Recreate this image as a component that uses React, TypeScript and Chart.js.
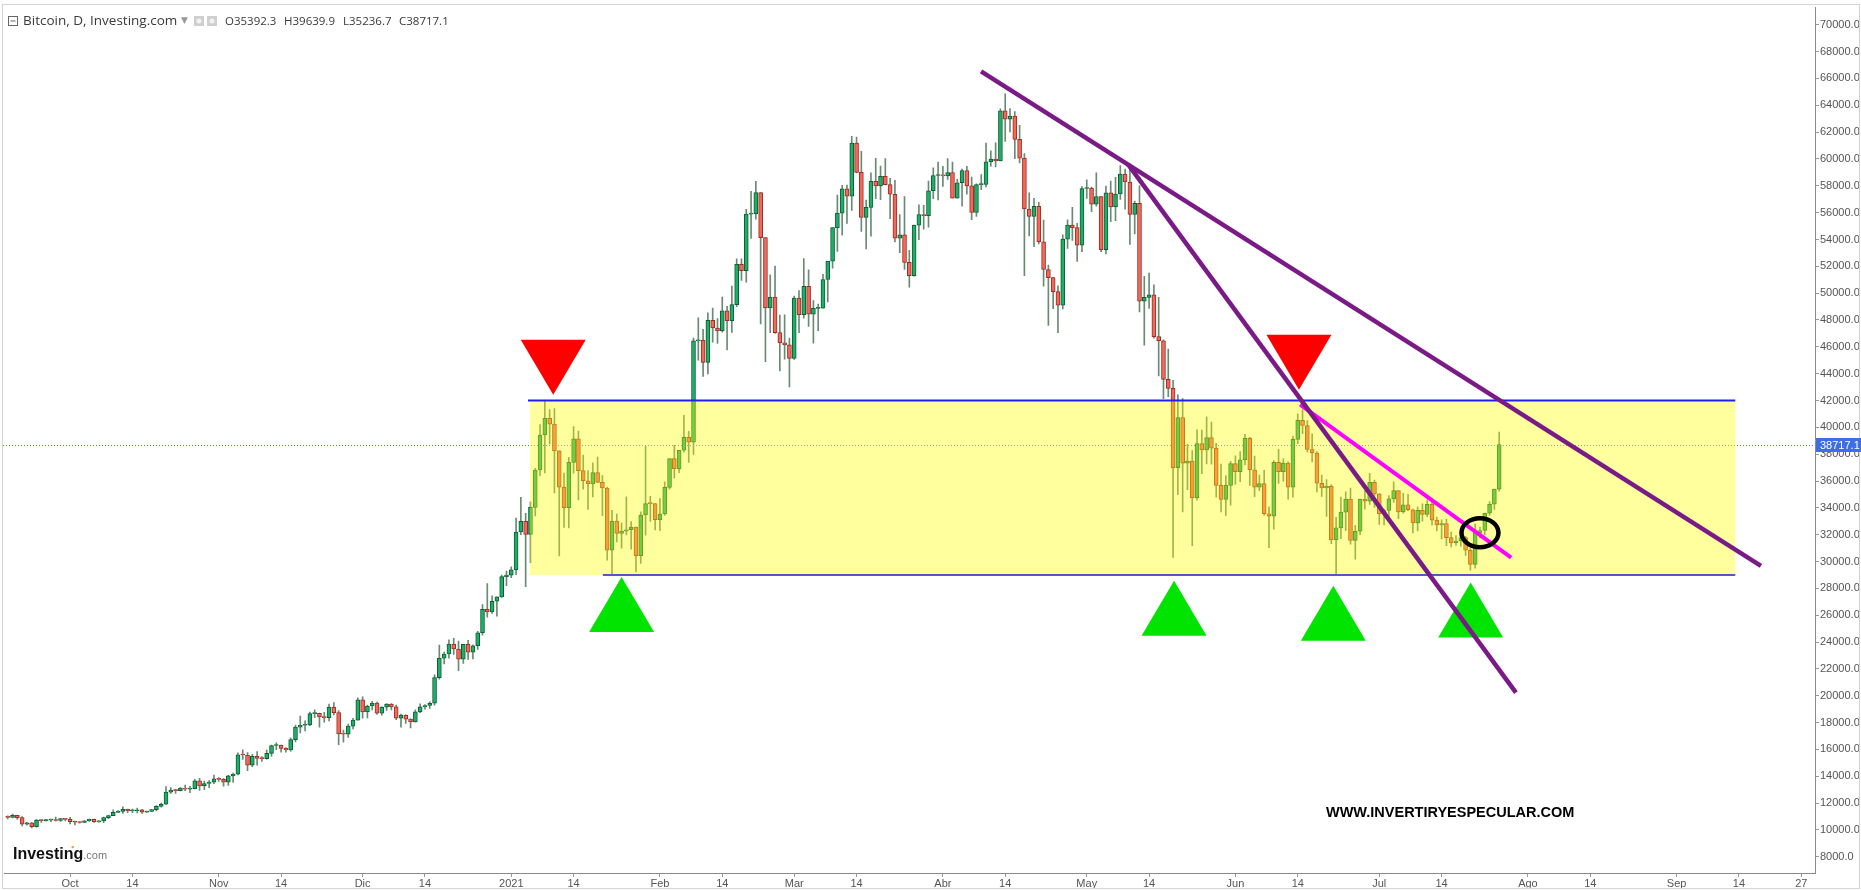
import React, { useEffect, useRef } from "react";
import { Chart, registerables } from "chart.js";

Chart.register(...registerables);

// ---------------- DATA ----------------
const FIRST_DATE = "2020-09-18"; // first daily candle, one candle per day
const AXIS_ORIGIN = "2020-10-01";

const opens = [
  10940, 10930, 11080, 10920, 10420, 10530, 10240, 10740, 10690, 10730, 10770, 10700, 10840,
  10780, 10620, 10570, 10550, 10670, 10790, 10600, 10670, 10920, 11060, 11300, 11370, 11540, 11430, 11430, 11500, 11320, 11370, 11510, 11750, 11910, 12820, 12970, 12930, 13120, 13030, 13070, 13650, 13270, 13460, 13560,
  13800, 13760, 13550, 14030, 14150, 15590, 15580, 14830, 15480, 15330, 15310, 15700, 16290, 16330, 16070, 15960, 16730, 17660, 17800, 17820, 18660, 18690, 18420, 18370, 19160, 18740, 17160, 17140, 17730, 18180,
  19700, 18800, 19230, 19450, 18700, 19150, 19370, 19170, 18320, 18550, 18250, 18040, 18800, 19170, 19270, 19440, 21350, 22800, 23110, 23850, 23480, 22720, 23830, 23250, 23720, 24690, 26440, 26250, 27040, 27370, 28880,
  28990, 29380, 32200, 33000, 32020, 34040, 36820, 39430, 40670, 40240, 38240, 35540, 34010, 37390, 39150, 36770, 36020, 35790, 36630, 35900, 35480, 30850, 33010, 32090, 32270, 32370, 32570, 30440, 33470, 34320, 34310,
  33110, 33540, 35520, 37680, 36900, 38290, 39260, 38900, 46440, 46480, 44840, 47970, 47400, 47190, 48690, 47940, 49150, 52150, 51680, 55890, 55920, 57490, 54140, 48900, 49710, 47060, 46300, 46150,
  45140, 49630, 48400, 50500, 48440, 48860, 48880, 51020, 52390, 54880, 55960, 57770, 57230, 61190, 59000, 55640, 56390, 58340, 58000, 58700, 58090, 57370, 54100, 54340, 52290, 51300, 55070, 55860, 55780, 57630, 58770,
  58800, 58740, 58990, 57080, 58230, 59130, 57990, 56010, 58090, 58100, 59790, 59990, 59860, 63580, 62960, 63200, 61460, 60060, 56270, 55720, 56470, 53830, 51760, 51160, 50110, 49100, 54030, 55070, 54880, 53580,
  57800, 57830, 56630, 57200, 53240, 57480, 56430, 57390, 58870, 58280, 55860, 56700, 49400, 49690, 49880, 46760, 46450, 43580, 42900, 37000, 40730, 37330, 37480, 34750, 38790, 38320, 39240, 38450, 35680, 34620, 35680,
  37300, 36690, 37580, 39190, 36840, 35540, 35800, 33560, 33380, 37390, 36690, 37340, 35550, 39100, 40520, 40140, 38350, 38090, 35830, 35480, 35600, 31610, 32510, 33680, 34660, 31570, 32270, 34660, 34490, 35900,
  35040, 33550, 33800, 34670, 35280, 33690, 34220, 33860, 32880, 33810, 33510, 34260, 33090, 32730, 32820, 31780, 31390, 31530, 31780, 30840, 29790, 32140, 32310, 33600, 34270, 35392.3,
];

const highs = [
  11040, 11180, 11090, 10990, 10570, 10540, 10780, 10760, 10780, 10800, 10950, 10860, 10850,
  10930, 10660, 10600, 10690, 10800, 10800, 10690, 10960, 11110, 11490, 11440, 11720, 11560, 11550, 11630, 11540, 11400, 11520, 11820, 12000, 13220, 13160, 13020, 13160, 13340, 13240, 13770, 13840, 13630, 13670, 14080,
  13900, 13820, 14070, 14240, 15750, 15960, 15760, 15640, 15830, 15460, 15950, 16330, 16480, 16330, 16130, 16870, 17820, 18480, 18130, 18780, 18950, 18710, 18760, 19380, 19480, 18900, 17440, 17880, 18320, 19850,
  19920, 19300, 19580, 19520, 19180, 19420, 19420, 19300, 18640, 18580, 18280, 18940, 19400, 19330, 19540, 21560, 23770, 23260, 24170, 24280, 24080, 23830, 24120, 23790, 24790, 26800, 28350, 27440, 27370, 28990, 29290,
  29600, 33240, 34790, 33600, 34450, 36940, 40200, 41950, 41330, 41400, 38250, 36600, 37760, 40050, 39720, 37930, 36780, 37360, 37780, 36410, 35550, 33810, 33540, 32880, 34830, 32980, 32570, 33710, 38590, 34860, 34310,
  34700, 35940, 37680, 38650, 38290, 40890, 39700, 46660, 48170, 47310, 48540, 48890, 48110, 49710, 49010, 50520, 52560, 52560, 56240, 57580, 58330, 57490, 54150, 51360, 52010, 48370, 48390, 46650,
  49780, 50200, 52570, 51740, 49450, 49190, 51410, 52360, 54880, 57310, 58040, 58060, 61690, 61640, 60570, 56930, 58960, 60050, 59470, 60030, 58560, 58410, 55850, 57190, 53200, 55080, 56580, 56550, 58360, 59340, 59760,
  59450, 60030, 59760, 58480, 59240, 59450, 58650, 58150, 58830, 61190, 60610, 61200, 63730, 64850, 63760, 63540, 62500, 60400, 57480, 57060, 56760, 55450, 52100, 51180, 50540, 54350, 55470, 56400, 55200, 57950,
  58450, 57910, 58960, 57210, 57980, 58360, 58640, 59500, 59250, 59530, 56870, 57990, 51250, 51500, 50620, 49680, 46520, 45830, 43500, 42420, 42150, 38730, 38260, 39820, 39790, 40780, 40390, 38800, 37260, 36400, 37470,
  37880, 38190, 39480, 39250, 37850, 36440, 36790, 34070, 37530, 38360, 37660, 37430, 39340, 41000, 41300, 40500, 39510, 38190, 36450, 36100, 35740, 33300, 34800, 35190, 35480, 32700, 34660, 35260, 36580, 36070,
  35040, 33900, 34920, 35940, 35280, 35080, 35010, 33910, 34070, 34300, 34590, 34650, 33320, 33100, 33160, 32200, 31930, 32410, 31880, 31020, 32790, 32560, 33610, 34470, 35400, 39639.9,
];

const lows = [
  10820, 10890, 10780, 10300, 10360, 10140, 10200, 10560, 10650, 10620, 10650, 10640, 10670,
  10450, 10370, 10500, 10530, 10630, 10550, 10570, 10540, 10830, 11060, 11280, 11230, 11280, 11290, 11270, 11230, 11310, 11350, 11420, 11700, 11900, 12720, 12720, 12900, 12930, 12780, 13050, 12950, 12990, 13140, 13450,
  13620, 13250, 13310, 13540, 14100, 15250, 14420, 14720, 14830, 15100, 15280, 15470, 15970, 15800, 15800, 15870, 16560, 17230, 17370, 17770, 18370, 17650, 18020, 18120, 18570, 16350, 16530, 16900, 17530, 18180,
  18330, 18340, 18940, 18600, 18550, 18900, 18950, 18220, 17650, 17930, 17600, 18020, 18730, 19000, 19060, 19300, 21240, 22370, 22800, 23070, 21860, 22400, 22710, 22740, 23450, 24510, 25850, 26130, 25920, 27320, 28200,
  28800, 29020, 32000, 28130, 29920, 33390, 36400, 36600, 38770, 35110, 30420, 32540, 32500, 36580, 34590, 35400, 33890, 34820, 35890, 33420, 30100, 28950, 31460, 31000, 31980, 30920, 29240, 29860, 31970, 32980, 32360,
  32300, 33440, 35400, 36220, 36620, 38150, 37390, 37980, 45000, 43800, 43990, 46340, 46260, 47090, 45770, 47070, 48990, 50950, 50820, 54080, 55520, 47700, 44890, 47050, 46990, 44200, 45080, 43020,
  45060, 47060, 48130, 47520, 46280, 47200, 48880, 49350, 51870, 53110, 54330, 55190, 56160, 58960, 54600, 53290, 54240, 57050, 56970, 58070, 55550, 53820, 53010, 51760, 50440, 51260, 53990, 54770, 54920, 57040, 56940,
  57960, 58470, 57080, 57070, 56480, 57380, 55480, 55720, 57720, 57910, 59460, 59410, 59850, 61310, 62020, 60020, 59700, 51300, 54260, 53470, 53670, 50520, 47600, 48840, 47060, 48820, 53340, 53930, 52370, 53090,
  57060, 56080, 56480, 53100, 52930, 55320, 55410, 56990, 56250, 53640, 54410, 48600, 46130, 48870, 46640, 43830, 42140, 42290, 30300, 34990, 33700, 35350, 31190, 34580, 36540, 37270, 37250, 34800, 33690, 33440, 34200,
  35740, 35960, 37190, 35680, 34830, 35280, 33430, 31030, 32410, 35820, 35990, 34650, 34800, 38790, 39530, 38150, 37430, 35180, 34860, 33360, 31330, 29000, 31700, 32300, 31300, 30180, 32000, 33900, 34250, 34030,
  32760, 32720, 33340, 34410, 33200, 33600, 33790, 32130, 32290, 33000, 33340, 32700, 32280, 31680, 31180, 31090, 31200, 31130, 30450, 29350, 29500, 31750, 31990, 33430, 33880, 35236.7,
];

const closes = [
  10930, 11080, 10920, 10420, 10530, 10240, 10740, 10690, 10730, 10770, 10700, 10840, 10780,
  10620, 10570, 10550, 10670, 10790, 10600, 10670, 10920, 11060, 11300, 11370, 11540, 11430, 11430, 11500, 11320, 11370, 11510, 11750, 11910, 12820, 12970, 12930, 13120, 13030, 13070, 13650, 13270, 13460, 13560, 13800,
  13760, 13550, 14030, 14150, 15590, 15580, 14830, 15480, 15330, 15310, 15700, 16290, 16330, 16070, 15960, 16730, 17660, 17800, 17820, 18660, 18690, 18420, 18370, 19160, 18740, 17160, 17140, 17730, 18180, 19700,
  18800, 19230, 19450, 18700, 19150, 19370, 19170, 18320, 18550, 18250, 18040, 18800, 19170, 19270, 19440, 21350, 22800, 23110, 23850, 23480, 22720, 23830, 23250, 23720, 24690, 26440, 26250, 27040, 27370, 28880, 28990,
  29380, 32200, 33000, 32020, 34040, 36820, 39430, 40670, 40240, 38240, 35540, 34010, 37390, 39150, 36770, 36020, 35790, 36630, 35900, 35480, 30850, 33010, 32090, 32270, 32370, 32570, 30440, 33470, 34320, 34310, 33110,
  33540, 35520, 37680, 36900, 38290, 39260, 38900, 46440, 46480, 44840, 47970, 47400, 47190, 48690, 47940, 49150, 52150, 51680, 55890, 55920, 57490, 54140, 48900, 49710, 47060, 46300, 46150, 45140,
  49630, 48400, 50500, 48440, 48860, 48880, 51020, 52390, 54880, 55960, 57770, 57230, 61190, 59000, 55640, 56390, 58340, 58000, 58700, 58090, 57370, 54100, 54340, 52290, 51300, 55070, 55860, 55780, 57630, 58770, 58800,
  58740, 58990, 57080, 58230, 59130, 57990, 56010, 58090, 58100, 59790, 59990, 59860, 63580, 62960, 63200, 61460, 60060, 56270, 55720, 56470, 53830, 51760, 51160, 50110, 49100, 54030, 55070, 54880, 53580, 57800,
  57830, 56630, 57200, 53240, 57480, 56430, 57390, 58870, 58280, 55860, 56700, 49400, 49690, 49880, 46760, 46450, 43580, 42900, 37000, 40730, 37330, 37480, 34750, 38790, 38320, 39240, 38450, 35680, 34620, 35680, 37300,
  36690, 37580, 39190, 36840, 35540, 35800, 33560, 33380, 37390, 36690, 37340, 35550, 39100, 40520, 40140, 38350, 38090, 35830, 35480, 35600, 31610, 32510, 33680, 34660, 31570, 32270, 34660, 34490, 35900, 35040,
  33550, 33800, 34670, 35280, 33690, 34220, 33860, 32880, 33810, 33510, 34260, 33090, 32730, 32820, 31780, 31390, 31530, 31780, 30840, 29790, 32140, 32310, 33600, 34270, 35390, 38717.1,
];

const tickDates = [
  "2020-10-01", "2020-10-14", "2020-11-01", "2020-11-14", "2020-12-01", "2020-12-14",
  "2021-01-01", "2021-01-14", "2021-02-01", "2021-02-14", "2021-03-01", "2021-03-14",
  "2021-04-01", "2021-04-14", "2021-05-01", "2021-05-14", "2021-06-01", "2021-06-14",
  "2021-07-01", "2021-07-14", "2021-08-01", "2021-08-14", "2021-09-01", "2021-09-14", "2021-09-27",
];
const tickLabels = [
  "Oct", "14", "Nov", "14", "Dic", "14", "2021", "14", "Feb", "14", "Mar", "14",
  "Abr", "14", "May", "14", "Jun", "14", "Jul", "14", "Ago", "14", "Sep", "14", "27",
];
const yTickValues = [
  8000, 10000, 12000, 14000, 16000, 18000, 20000, 22000, 24000, 26000, 28000, 30000,
  32000, 34000, 36000, 38000, 40000, 42000, 44000, 46000, 48000, 50000, 52000, 54000,
  56000, 58000, 60000, 62000, 64000, 66000, 68000, 70000,
];

const X_START = "2020-09-17T05:15Z";
const X_END = "2021-09-29T20:40Z";
const Y_MIN = 6788;
const Y_MAX = 71280;

// annotations (date, price)
const rangeBox = { from: "2021-01-04T21:30Z", to: "2021-09-13T05:45Z", low: 29000, high: 42000 };
const resistanceLine = { from: "2021-01-04T11:30Z", to: "2021-09-13T05:45Z", value: 42000 };
const supportLine = { from: "2021-01-20T02:30Z", to: "2021-09-13T05:45Z", value: 29000 };
const purpleLines: [string, number, string, number][] = [
  ["2021-04-08T23:00Z", 66525, "2021-09-18T14:00Z", 29672],
  ["2021-05-09T14:00Z", 59615, "2021-07-29T12:00Z", 20236],
];
const magentaLine: [string, number, string, number] = ["2021-06-14T12:00Z", 41690, "2021-07-28T12:00Z", 30290];
const circleMark: [string, number] = ["2021-07-22T00:00Z", 32150];
const sellMarks: [string, number][] = [["2021-01-09T18:00Z", 42430], ["2021-06-14T06:00Z", 42800]];
const buyMarks: [string, number][] = [
  ["2021-01-24T00:00Z", 28855], ["2021-05-19T05:00Z", 28558],
  ["2021-06-21T10:00Z", 28186], ["2021-07-20T01:30Z", 28432],
];

// ---------------- HELPERS ----------------
const ORIGIN_MS = Date.parse(AXIS_ORIGIN);
const dayOf = (s: string) => (Date.parse(s) - ORIGIN_MS) / 86400000;

const UP_FILL = "#1fae68";
const UP_BORDER = "#0c5e35";
const DOWN_FILL = "#ee6a5b";
const DOWN_BORDER = "#a02b22";
const WICK = "#6a8a74";
const AXIS_FONT = "'Liberation Sans Narrow', 'Arial Narrow', 'Liberation Sans', Arial, sans-serif";

export default function App() {
  const ref = useRef<HTMLCanvasElement | null>(null);

  useEffect(() => {
    const canvas = ref.current;
    if (!canvas) return;
    const n = Math.min(opens.length, highs.length, lows.length, closes.length);
    const firstDay = dayOf(FIRST_DATE);
    const xs = Array.from({ length: n }, (_, i) => firstDay + i);
    const wickData = xs.map((x, i) => ({ x, y: [lows[i], highs[i]] }));
    const bodyData = xs.map((x, i) => ({ x, y: [opens[i], closes[i]] }));
    const isUp = xs.map((_, i) => closes[i] >= opens[i]);
    const tickDays = tickDates.map(dayOf);
    const last = n - 1;

    const overlay = {
      id: "overlay",
      beforeDraw(chart: any) {
        const { ctx } = chart;
        ctx.save();
        ctx.fillStyle = "#ffffff";
        ctx.fillRect(0, 0, chart.width, chart.height);
        ctx.restore();
      },
      beforeDatasetsDraw(chart: any) {
        const { ctx, chartArea, scales } = chart;
        const y = Math.round(scales.y.getPixelForValue(closes[last])) + 0.5;
        ctx.save();
        ctx.strokeStyle = "#4f74e3";
        ctx.lineWidth = 1;
        ctx.setLineDash([1, 2]);
        ctx.beginPath();
        ctx.moveTo(3, y);
        ctx.lineTo(chartArea.right, y);
        ctx.stroke();
        ctx.restore();
      },
      afterDatasetsDraw(chart: any) {
        const { ctx, chartArea, scales } = chart;
        const sx = scales.x, sy = scales.y;
        const X = (s: string) => sx.getPixelForValue(dayOf(s));
        const Y = (v: number) => sy.getPixelForValue(v);
        ctx.save();
        ctx.beginPath();
        ctx.rect(chartArea.left, chartArea.top, chartArea.right - chartArea.left, chartArea.bottom - chartArea.top);
        ctx.clip();

        // yellow range box (semi-transparent, over candles)
        ctx.fillStyle = "rgba(255,255,0,0.38)";
        const bx0 = X(rangeBox.from), bx1 = X(rangeBox.to);
        const by0 = Y(rangeBox.high), by1 = Y(rangeBox.low);
        ctx.fillRect(bx0, by0, bx1 - bx0, by1 - by0);

        // horizontal levels
        ctx.lineCap = "butt";
        ctx.strokeStyle = "#1f1fee";
        ctx.lineWidth = 2.2;
        ctx.beginPath();
        ctx.moveTo(X(resistanceLine.from), Y(resistanceLine.value));
        ctx.lineTo(X(resistanceLine.to), Y(resistanceLine.value));
        ctx.stroke();
        ctx.strokeStyle = "#5656c8";
        ctx.lineWidth = 2;
        ctx.beginPath();
        ctx.moveTo(X(supportLine.from), Y(supportLine.value));
        ctx.lineTo(X(supportLine.to), Y(supportLine.value));
        ctx.stroke();

        // triangles
        const tri = (px: number, py: number, w: number, h: number, color: string) => {
          ctx.fillStyle = color;
          ctx.beginPath();
          ctx.moveTo(px, py);
          ctx.lineTo(px - w / 2, py + h);
          ctx.lineTo(px + w / 2, py + h);
          ctx.closePath();
          ctx.fill();
        };
        sellMarks.forEach(([d, v]) => tri(X(d), Y(v), 65, -55, "#ff0000"));
        buyMarks.forEach(([d, v]) => tri(X(d), Y(v), 65, 55, "#00e400"));

        // magenta line
        ctx.lineCap = "butt";
        ctx.strokeStyle = "#ff00ff";
        ctx.lineWidth = 4;
        ctx.beginPath();
        ctx.moveTo(X(magentaLine[0]), Y(magentaLine[1]));
        ctx.lineTo(X(magentaLine[2]), Y(magentaLine[3]));
        ctx.stroke();

        // purple trend lines
        ctx.strokeStyle = "#7a1a87";
        ctx.lineWidth = 4.5;
        purpleLines.forEach(([d0, v0, d1, v1]) => {
          ctx.beginPath();
          ctx.moveTo(X(d0), Y(v0));
          ctx.lineTo(X(d1), Y(v1));
          ctx.stroke();
        });

        // black ellipse
        ctx.strokeStyle = "#000000";
        ctx.lineWidth = 4.5;
        ctx.beginPath();
        ctx.ellipse(X(circleMark[0]), Y(circleMark[1]), 18.5, 14.5, 0, 0, Math.PI * 2);
        ctx.stroke();
        ctx.restore();
      },
      afterDraw(chart: any) {
        const { ctx, chartArea, scales } = chart;
        ctx.save();
        // frame
        ctx.strokeStyle = "#d4d4d4";
        ctx.lineWidth = 1;
        ctx.strokeRect(2.5, 4.5, chart.width - 4, chart.height - 6);

        // current price label on axis
        const py = scales.y.getPixelForValue(closes[last]);
        ctx.fillStyle = "#3e6ee6";
        ctx.fillRect(chartArea.right + 1, Math.round(py) - 7, 45, 14);
        ctx.fillStyle = "#ffffff";
        ctx.font = `11px ${AXIS_FONT}`;
        ctx.textBaseline = "middle";
        ctx.textAlign = "left";
        ctx.fillText(closes[last].toFixed(1), chartArea.right + 5, Math.round(py) + 0.5);

        // header
        ctx.textBaseline = "alphabetic";
        ctx.strokeStyle = "#666";
        ctx.strokeRect(8.5, 16.5, 9, 9);
        ctx.beginPath();
        ctx.moveTo(10.5, 21);
        ctx.lineTo(15.5, 21);
        ctx.stroke();
        ctx.fillStyle = "#3a3a3a";
        ctx.font = "13.5px 'Open Sans', 'Noto Sans', sans-serif";
        ctx.fillText("Bitcoin, D, Investing.com", 23, 25);
        ctx.fillStyle = "#999";
        ctx.font = "9px 'DejaVu Sans', sans-serif";
        ctx.fillText("▼", 181, 23);
        ctx.fillStyle = "#cfcfcf";
        ctx.fillRect(194, 16, 10, 10);
        ctx.fillRect(207, 16, 10, 10);
        ctx.fillStyle = "#f2f2f2";
        ctx.beginPath();
        ctx.arc(199, 21, 2.5, 0, Math.PI * 2);
        ctx.arc(212, 21, 2.5, 0, Math.PI * 2);
        ctx.fill();
        ctx.fillStyle = "#3a3a3a";
        ctx.font = "11.5px 'Open Sans', 'Noto Sans', sans-serif";
        ctx.fillText("O" + opens[last].toFixed(1), 225, 25);
        ctx.fillText("H" + highs[last].toFixed(1), 284, 25);
        ctx.fillText("L" + lows[last].toFixed(1), 343, 25);
        ctx.fillText("C" + closes[last].toFixed(1), 399, 25);

        // logo
        ctx.fillStyle = "#111";
        ctx.font = "bold 16px 'Liberation Sans', Arial, sans-serif";
        ctx.fillText("Investing", 13, 859);
        const w = ctx.measureText("Investing").width;
        ctx.fillStyle = "#777";
        ctx.font = "11px 'Liberation Sans', Arial, sans-serif";
        ctx.fillText(".com", 13 + w, 859);
        ctx.fillStyle = "#e8a33d";
        ctx.beginPath();
        ctx.arc(13 + w - 10.5, 847, 1.3, 0, Math.PI * 2);
        ctx.fill();

        // watermark
        ctx.fillStyle = "#000";
        ctx.font = "bold 14.5px 'Liberation Sans', Arial, sans-serif";
        ctx.fillText("WWW.INVERTIRYESPECULAR.COM", 1326, 817);
        ctx.restore();
      },
    };

    const chart = new Chart(canvas, {
      type: "bar",
      data: {
        datasets: [
          {
            label: "wick",
            data: wickData as any,
            backgroundColor: xs.map(() => WICK),
            borderWidth: 0,
            barThickness: 1,
            grouped: false,
            order: 2,
          } as any,
          {
            label: "body",
            data: bodyData as any,
            backgroundColor: isUp.map((u) => (u ? UP_FILL : DOWN_FILL)),
            borderColor: isUp.map((u) => (u ? UP_BORDER : DOWN_BORDER)),
            borderWidth: 1,
            borderSkipped: false,
            barThickness: 4,
            minBarLength: 1,
            grouped: false,
            order: 1,
          } as any,
        ],
      },
      options: {
        responsive: false,
        devicePixelRatio: 1,
        animation: false,
        events: [],
        layout: { padding: { left: 4, top: 5, right: 0, bottom: 0 } },
        plugins: { legend: { display: false }, tooltip: { enabled: false } },
        scales: {
          x: {
            type: "linear",
            min: dayOf(X_START),
            max: dayOf(X_END),
            offset: false,
            grid: { display: true, offset: false, drawOnChartArea: false, drawTicks: true, tickLength: 4, color: "#999" },
            border: { display: true, color: "#8a8a8a" },
            afterBuildTicks: (axis: any) => {
              axis.ticks = tickDays.map((v) => ({ value: v }));
            },
            afterFit: (axis: any) => {
              axis.height = 17;
            },
            ticks: {
              autoSkip: false,
              maxRotation: 0,
              padding: 0,
              color: "#555",
              font: { family: AXIS_FONT, size: 11 },
              callback: (v: any) => {
                const k = tickDays.findIndex((d) => Math.abs(d - Number(v)) < 0.01);
                return k >= 0 ? tickLabels[k] : "";
              },
            },
          },
          y: {
            type: "linear",
            position: "right",
            min: Y_MIN,
            max: Y_MAX,
            grid: { display: true, drawOnChartArea: false, drawTicks: true, tickLength: 4, color: "#999" },
            border: { display: true, color: "#8a8a8a" },
            afterBuildTicks: (axis: any) => {
              axis.ticks = yTickValues.map((v) => ({ value: v }));
            },
            afterFit: (axis: any) => {
              axis.width = 46;
            },
            ticks: {
              autoSkip: false,
              padding: 1,
              color: "#555",
              font: { family: AXIS_FONT, size: 11 },
              callback: (v: any) => Number(v).toFixed(1),
            },
          },
        },
      } as any,
      plugins: [overlay],
    });
    return () => chart.destroy();
  }, []);

  return (
    <div style={{ position: "absolute", left: 0, top: 0, width: 1861, height: 890, background: "#fff" }}>
      <canvas ref={ref} width={1861} height={890} style={{ display: "block", width: 1861, height: 890 }} />
    </div>
  );
}
